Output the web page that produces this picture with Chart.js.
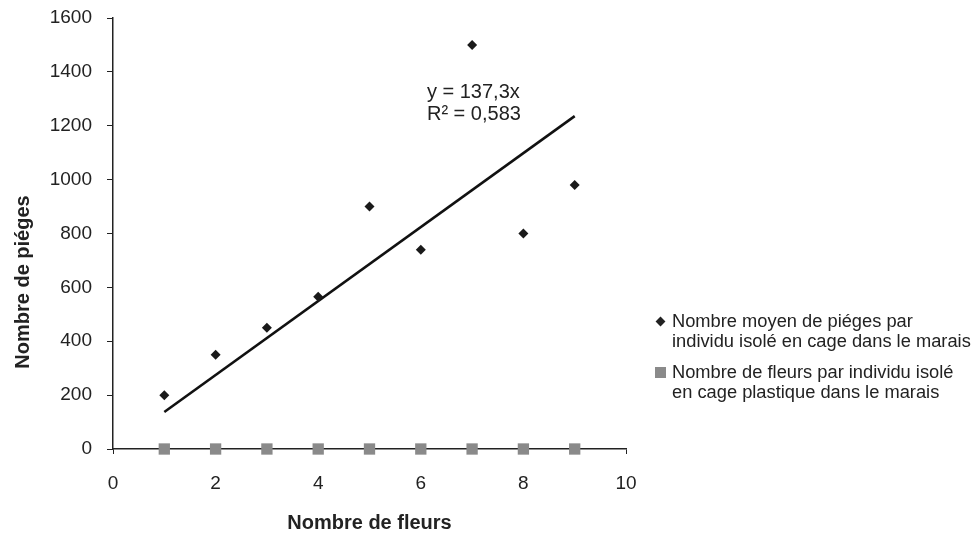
<!DOCTYPE html>
<html>
<head>
<meta charset="utf-8">
<script src="https://cdn.jsdelivr.net/npm/chart.js@4/dist/chart.umd.min.js"></script>
<style>
  html, body { margin: 0; padding: 0; background: #ffffff; }
  #wrap { position: relative; width: 974px; height: 535px; }
  #legend { position: absolute; left: 655px; top: 311px; font-family: "Liberation Sans", Arial, sans-serif; font-size: 18.3px; color: #222; line-height: 20px; }
  .item { position: relative; padding-left: 17px; margin-bottom: 11px; }
  .mk { position: absolute; left: 2px; top: 7px; }
  .dia { width: 7px; height: 7px; background: #222; transform: rotate(45deg); }
  .sq { width: 11px; height: 11px; background: #8a8a8a; top: 5px; left: 0px; }
</style>
</head>
<body>
<div id="wrap">
  <canvas id="c" width="974" height="535"></canvas>
  <div id="legend">
    <div class="item"><span class="mk dia"></span>Nombre moyen de piéges par<br>individu isolé en cage dans le marais</div>
    <div class="item"><span class="mk sq"></span>Nombre de fleurs par individu isolé<br>en cage plastique dans le marais</div>
  </div>
</div>
<script>
const flowers = [1, 2, 3, 4, 5, 6, 7, 8, 9];
const trapsMean = [200, 350, 450, 565, 900, 740, 1500, 800, 980];
const flowerCount = [0, 0, 0, 0, 0, 0, 0, 0, 0];
const trendX = [1, 9];
const trendY = [137.3, 1235.7];
const equationLines = ["y = 137,3x", "R² = 0,583"];
const xTitle = "Nombre de fleurs";
const yTitle = "Nombre de piéges";

const FONT = "'Liberation Sans', Arial, sans-serif";

const annot = {
  id: 'annot',
  afterDraw(chart) {
    const ctx = chart.ctx;
    const xs = chart.scales.x, ys = chart.scales.y;
    ctx.save();
    ctx.fillStyle = '#222';
    ctx.font = "20px " + FONT;
    ctx.textAlign = 'left';
    ctx.textBaseline = 'middle';
    const ex = xs.getPixelForValue(6.12);
    const ey = ys.getPixelForValue(1323);
    equationLines.forEach((t, i) => ctx.fillText(t, ex, ey + i * 22));
    ctx.font = "bold 20px " + FONT;
    ctx.translate(23, 282);
    ctx.rotate(-Math.PI / 2);
    ctx.textAlign = 'center';
    ctx.fillText(yTitle, 0, 0);
    ctx.restore();
  }
};

new Chart(document.getElementById('c'), {
  type: 'scatter',
  data: {
    datasets: [
      {
        label: 'Nombre moyen de piéges par individu isolé en cage dans le marais',
        data: flowers.map((x, i) => ({ x: x, y: trapsMean[i] })),
        pointStyle: 'rectRot',
        pointRadius: 5,
        backgroundColor: '#1a1a1a',
        borderColor: '#1a1a1a',
        borderWidth: 0,
        clip: false,
        order: 2
      },
      {
        label: 'Nombre de fleurs par individu isolé en cage plastique dans le marais',
        data: flowers.map((x, i) => ({ x: x, y: flowerCount[i] })),
        pointStyle: 'rect',
        pointRadius: 8,
        backgroundColor: '#8a8a8a',
        borderColor: '#8a8a8a',
        borderWidth: 0,
        clip: false,
        order: 1
      },
      {
        label: 'trend',
        type: 'line',
        data: trendX.map((x, i) => ({ x: x, y: trendY[i] })),
        borderColor: '#111',
        borderWidth: 2.6,
        pointRadius: 0,
        fill: false,
        clip: false,
        order: 3
      }
    ]
  },
  options: {
    responsive: false,
    animation: false,
    events: [],
    layout: { padding: { left: 0, right: 348, top: 18, bottom: 0 } },
    plugins: { legend: { display: false }, tooltip: { enabled: false } },
    scales: {
      x: {
        type: 'linear',
        min: 0, max: 10,
        ticks: { stepSize: 2, color: '#222', font: { family: FONT, size: 19 }, padding: 18, maxRotation: 0,
                 callback: (v) => String(v) },
        grid: { display: true, drawOnChartArea: false, drawTicks: true, tickLength: 5, color: '#222', lineWidth: 1 },
        border: { display: true, color: '#222', width: 1.5 },
        title: { display: true, text: xTitle, color: '#222', font: { family: FONT, size: 20, weight: 'bold' }, padding: { top: 2, bottom: 0 } },
        afterFit(s) { s.height = 86; s.paddingLeft = 0; s.paddingRight = 0; }
      },
      y: {
        type: 'linear',
        min: 0, max: 1600,
        ticks: { stepSize: 200, color: '#222', font: { family: FONT, size: 19 }, padding: 15,
                 callback: (v) => String(v) },
        grid: { display: true, drawOnChartArea: false, drawTicks: true, tickLength: 6, color: '#222', lineWidth: 1 },
        border: { display: true, color: '#222', width: 1.5 },
        afterFit(s) { s.width = 113; s.paddingTop = 0; s.paddingBottom = 0; }
      }
    }
  },
  plugins: [annot]
});
</script>
</body>
</html>
